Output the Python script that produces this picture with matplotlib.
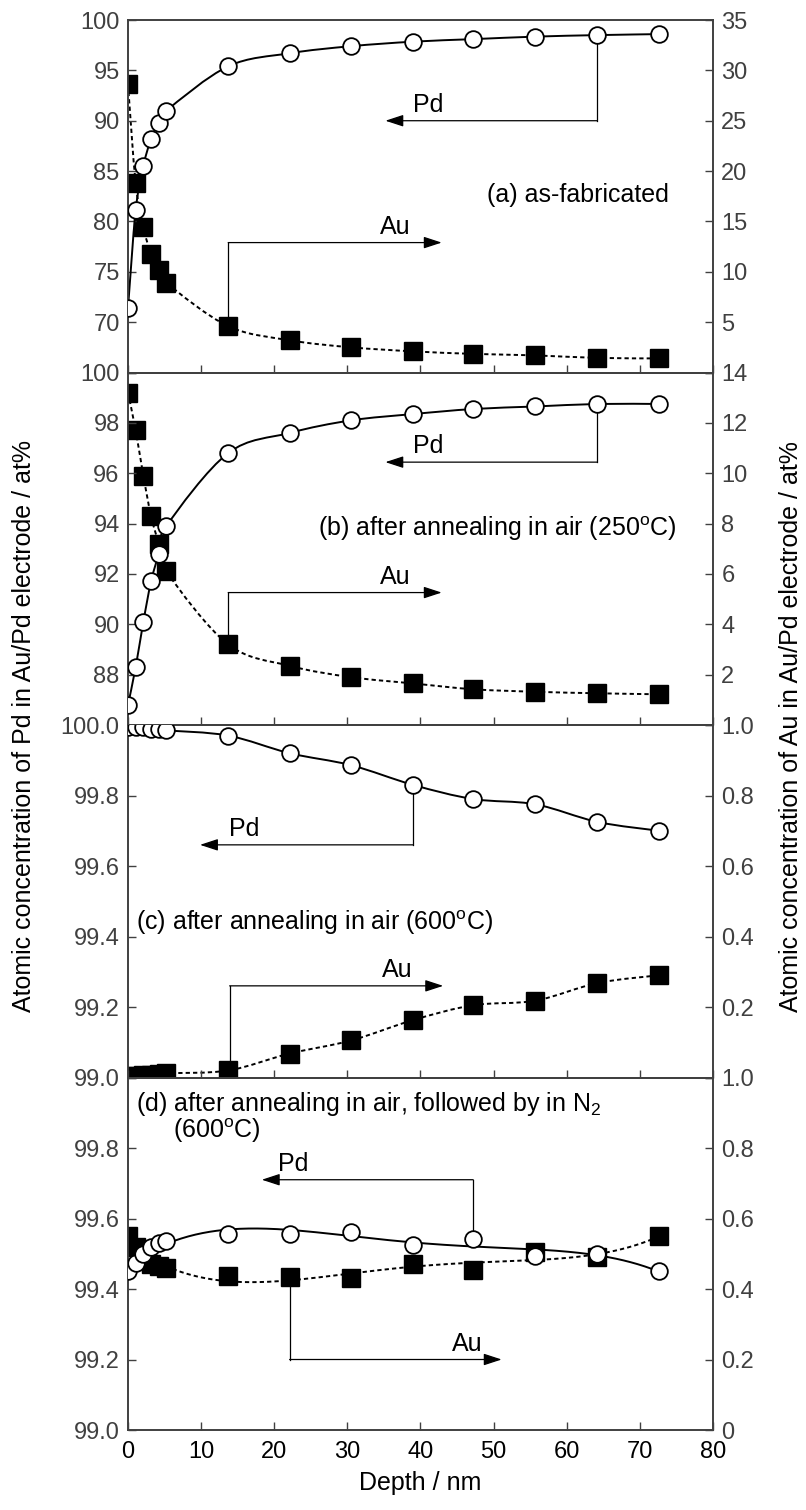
#!/usr/bin/env python3
# -*- coding: utf-8 -*-
"""
Depth profiles of Pd and Au in the Au/Pd electrode, four annealing states.
Pd on the left axis (open circles, solid line), Au on the right axis
(filled squares, dashed line). Panels (a)-(c) use smoothed lines through
the points, panel (d) uses a polynomial trendline.
"""

import matplotlib.pyplot as plt
from matplotlib.path import Path
from matplotlib.patches import PathPatch
import numpy as np

plt.rcParams['font.family'] = ['Liberation Sans', 'DejaVu Sans']
plt.rcParams['mathtext.fontset'] = 'custom'
plt.rcParams['mathtext.rm'] = 'Liberation Sans'

# depth of each sputter step, nm
depth = [0, 1.05, 2.1, 3.15, 4.2, 5.25, 13.7, 22.1, 30.5, 39.0, 47.2, 55.7, 64.2, 72.6]

# (a) as-fabricated
pd_a = [71.4, 81.1, 85.5, 88.2, 89.8, 91.0, 95.4, 96.7, 97.4, 97.85, 98.1, 98.35, 98.5, 98.6]
au_a = [28.6, 18.8, 14.4, 11.8, 10.2, 8.9, 4.6, 3.2, 2.5, 2.1, 1.85, 1.7, 1.45, 1.4]

# (b) after annealing in air, 250 C
pd_b = [86.8, 88.3, 90.1, 91.7, 92.8, 93.9, 96.8, 97.6, 98.1, 98.35, 98.55, 98.65, 98.75, 98.75]
au_b = [13.2, 11.7, 9.9, 8.3, 7.2, 6.1, 3.2, 2.35, 1.9, 1.65, 1.42, 1.32, 1.26, 1.22]

# (c) after annealing in air, 600 C
pd_c = [99.995, 99.995, 99.993, 99.99, 99.99, 99.985, 99.97, 99.92, 99.886, 99.83, 99.79, 99.775, 99.725, 99.70]
au_c = [0.005, 0.005, 0.006, 0.008, 0.01, 0.012, 0.02, 0.068, 0.105, 0.163, 0.205, 0.218, 0.268, 0.29]

# (d) air then N2, 600 C
pd_d = [99.45, 99.475, 99.50, 99.52, 99.53, 99.535, 99.556, 99.557, 99.561, 99.524, 99.542, 99.493, 99.50, 99.45]
au_d = [0.55, 0.52, 0.49, 0.47, 0.465, 0.46, 0.437, 0.434, 0.432, 0.47, 0.455, 0.505, 0.49, 0.55]

panel_text = ['(a) as-fabricated',
              '(b) after annealing in air (250$^{\\mathregular{o}}$C)',
              '(c) after annealing in air (600$^{\\mathregular{o}}$C)',
              '(d) after annealing in air, followed by in N$_{\\mathregular{2}}$']

gray = '#404040'
fs = 17


def smooth(ax, x, y, **kw):
    # catmull-rom style bezier through the points (Excel "smoothed line")
    p = np.column_stack([x, y]).astype(float)
    n = len(p)
    verts = [p[0]]
    codes = [Path.MOVETO]
    for i in range(n - 1):
        p0 = p[i - 1] if i > 0 else p[i]
        p3 = p[i + 2] if i + 2 < n else p[i + 1]
        c1 = p[i] + (p[i + 1] - p0) / 6.0
        c2 = p[i + 1] - (p3 - p[i]) / 6.0
        verts += [c1, c2, p[i + 1]]
        codes += [Path.CURVE4] * 3
    ax.add_patch(PathPatch(Path(verts, codes), fill=False, **kw))


def trend(ax, x, y, deg, **kw):
    # polynomial trendline over the data range
    coef = np.polyfit(x, y, deg)
    xx = np.linspace(min(x), max(x), 300)
    ax.plot(xx, np.polyval(coef, xx), **kw)


def callout(ax, pts, end, zorder=1):
    # elbow leader line from a marker ending in an arrow
    xs = [q[0] for q in pts]
    ys = [q[1] for q in pts]
    ax.plot(xs, ys, color='black', lw=0.9, zorder=zorder)
    ax.annotate('', xy=end, xytext=pts[-1],
                arrowprops=dict(arrowstyle='-|>,head_length=0.55,head_width=0.18',
                                color='black', lw=0.9, mutation_scale=20,
                                shrinkA=0, shrinkB=0), zorder=zorder)


fig = plt.figure(figsize=(8.06, 15.10), dpi=100)
gs = fig.add_gridspec(4, 1, left=0.1588, right=0.8846, top=0.98675, bottom=0.05298, hspace=0)

pd_all = [pd_a, pd_b, pd_c, pd_d]
au_all = [au_a, au_b, au_c, au_d]
left_lim = [(65, 100), (86, 100), (99.0, 100.0), (99.0, 100.0)]
right_lim = [(0, 35), (0, 14), (0, 1.0), (0, 1.0)]
left_ticks = [np.arange(65, 101, 5), np.arange(86, 101, 2),
              np.linspace(99.0, 100.0, 6), np.linspace(99.0, 100.0, 6)]
right_ticks = [np.arange(0, 36, 5), np.arange(0, 15, 2),
               np.linspace(0, 1.0, 6), np.linspace(0, 1.0, 6)]

dash = (0, (2.2, 1.6))

for k in range(4):
    ax = fig.add_subplot(gs[k])
    ax2 = ax.twinx()
    ax.set_zorder(ax2.get_zorder() + 1)
    ax.patch.set_visible(False)

    ax.set_xlim(0, 80)
    ax.set_ylim(*left_lim[k])
    ax2.set_ylim(*right_lim[k])

    # Au first (right axis, underneath)
    if k < 3:
        smooth(ax2, depth, au_all[k], edgecolor='black', lw=1.4, linestyle=dash, zorder=2)
        smooth(ax, depth, pd_all[k], edgecolor='black', lw=1.4, zorder=2)
    else:
        trend(ax2, depth, au_all[k], 4, color='black', lw=1.4, linestyle=dash, zorder=2)
        trend(ax, depth, pd_all[k], 4, color='black', lw=1.4, zorder=2)
    ax2.plot(depth, au_all[k], 's', ms=13, mfc='black', mec='black', zorder=3)
    ax.plot(depth, pd_all[k], 'o', ms=12, mfc='white', mec='black', mew=1.3, zorder=3)

    # tick labels, some hidden where panels meet
    lt = left_ticks[k]
    rt = right_ticks[k]
    if k < 2:
        llab = ['' if i == 0 else '%d' % v for i, v in enumerate(lt)]
        rlab = ['' if i == 0 else '%d' % v for i, v in enumerate(rt)]
    elif k == 2:
        llab = ['%.1f' % v for v in lt]
        rlab = ['' if i == 0 else '%.1f' % v for i, v in enumerate(rt)]
    else:
        llab = ['%.1f' % v for v in lt[:-1]] + ['']
        rlab = ['0'] + ['%.1f' % v for v in rt[1:]]
    ax.set_yticks(lt)
    ax.set_yticklabels(llab)
    ax2.set_yticks(rt)
    ax2.set_yticklabels(rlab)

    ax.set_xticks(np.arange(0, 81, 10))
    ax.tick_params(axis='x', direction='in', length=6, width=1, top=False,
                   labelsize=fs, labelbottom=(k == 3), color=gray, pad=8)
    ax.tick_params(axis='y', direction='in', length=6, width=1, labelsize=fs,
                   labelcolor=gray, color=gray, pad=6)
    ax2.tick_params(axis='y', direction='in', length=6, width=1, labelsize=fs,
                    labelcolor=gray, color=gray, pad=6)
    for a in (ax, ax2):
        for s in a.spines.values():
            s.set_color(gray)
            s.set_linewidth(1.2)

    if k == 0:
        callout(ax, [(64.2, 98.5), (64.2, 90.0)], (35.2, 90.0))
        ax.text(39.0, 90.4, 'Pd', fontsize=fs + 1, va='bottom')
        callout(ax, [(13.7, 69.6), (13.7, 77.9)], (42.9, 77.9))
        ax.text(34.5, 78.3, 'Au', fontsize=fs + 1, va='bottom')
        ax.text(73.9, 82.6, panel_text[0], fontsize=fs + 1, ha='right', va='center')
    elif k == 1:
        callout(ax, [(64.2, 98.75), (64.2, 96.44)], (35.2, 96.44))
        ax.text(39.0, 96.6, 'Pd', fontsize=fs + 1, va='bottom')
        callout(ax, [(13.7, 89.2), (13.7, 91.26)], (42.9, 91.26))
        ax.text(34.5, 91.42, 'Au', fontsize=fs + 1, va='bottom')
        ax.text(75.0, 93.8, panel_text[1], fontsize=fs + 1, ha='right', va='center')
    elif k == 2:
        callout(ax, [(39.0, 99.83), (39.0, 99.66)], (9.85, 99.66))
        ax.text(13.8, 99.67, 'Pd', fontsize=fs + 1, va='bottom')
        callout(ax, [(13.9, 99.02), (13.9, 99.26)], (43.1, 99.26))
        ax.text(34.7, 99.27, 'Au', fontsize=fs + 1, va='bottom')
        ax.text(1.1, 99.44, panel_text[2], fontsize=fs + 1, ha='left', va='center')
    else:
        callout(ax, [(47.2, 99.54), (47.2, 99.71)], (18.3, 99.71))
        ax.text(20.5, 99.72, 'Pd', fontsize=fs + 1, va='bottom')
        callout(ax, [(22.1, 99.434), (22.1, 99.2)], (51.1, 99.2))
        ax.text(44.3, 99.21, 'Au', fontsize=fs + 1, va='bottom')
        ax.text(1.1, 99.925, panel_text[3], fontsize=fs + 1, ha='left', va='center')
        ax.text(6.1, 99.85, '(600$^{\\mathregular{o}}$C)', fontsize=fs + 1, ha='left', va='center')
        ax.set_xlabel('Depth / nm', fontsize=fs + 1, labelpad=6)

fig.text(0.030, 0.519, 'Atomic concentration of Pd in Au/Pd electrode / at%',
         rotation=90, fontsize=fs + 1, ha='center', va='center')
fig.text(0.981, 0.519, 'Atomic concentration of Au in Au/Pd electrode / at%',
         rotation=90, fontsize=fs + 1, ha='center', va='center')

plt.savefig('out.png', dpi=100)
